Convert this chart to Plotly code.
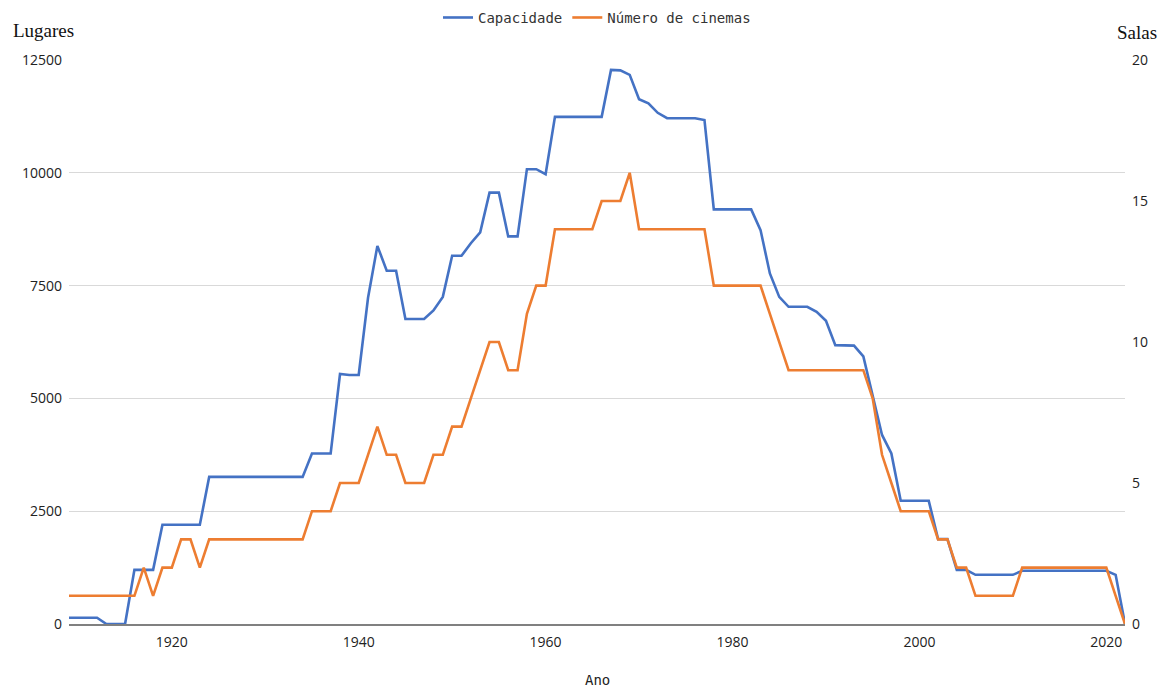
import plotly.graph_objects as go

years = list(range(1909, 2023))

capacidade = (
    [140, 140, 140, 140, 0, 0, 0, 1200, 1200, 1200, 2200, 2200, 2200, 2200, 2200]  # 1909-1923
    + [3260] * 11  # 1924-1934
    + [3780, 3780, 3780, 5540, 5520, 5520, 7230, 8380, 7830, 7830, 6760, 6760, 6760, 6950, 7250]  # 1935-1949
    + [8160, 8160, 8440, 8680, 9560, 9560, 8590, 8590, 10080, 10080, 9970]  # 1950-1960
    + [11240] * 6  # 1961-1966
    + [12280, 12270, 12170, 11630, 11540, 11330, 11210, 11210, 11210, 11210, 11170]  # 1967-1977
    + [9190] * 5  # 1978-1982
    + [8730, 7770, 7250, 7030, 7030, 7030, 6920, 6720, 6180, 6180, 6170, 5930, 5040, 4190, 3780]  # 1983-1997
    + [2730] * 4  # 1998-2001
    + [1880, 1880, 1200, 1200]  # 2002-2005
    + [1090] * 5  # 2006-2010
    + [1180] * 10  # 2011-2020
    + [1090, 0]  # 2021-2022
)

cinemas = (
    [1] * 8  # 1909-1916
    + [2, 1, 2, 2, 3, 3, 2]  # 1917-1923
    + [3] * 11  # 1924-1934
    + [4, 4, 4, 5, 5, 5, 6, 7, 6, 6, 5, 5, 5, 6, 6]  # 1935-1949
    + [7, 7, 8, 9, 10, 10, 9, 9, 11, 12, 12]  # 1950-1960
    + [14] * 5  # 1961-1965
    + [15, 15, 15, 16]  # 1966-1969
    + [14] * 8  # 1970-1977
    + [12] * 6  # 1978-1983
    + [11, 10]  # 1984-1985
    + [9] * 9  # 1986-1994
    + [8, 6, 5]  # 1995-1997
    + [4] * 4  # 1998-2001
    + [3, 3, 2, 2]  # 2002-2005
    + [1] * 5  # 2006-2010
    + [2] * 10  # 2011-2020
    + [1, 0]  # 2021-2022
)

series_names = ["Capacidade", "Número de cinemas"]
x_ticks = [1920, 1940, 1960, 1980, 2000, 2020]

BLUE = "#4472C4"
ORANGE = "#ED7D31"
TICKFONT = dict(family="Open Sans", size=14, color="#222222")

fig = go.Figure()
fig.add_trace(go.Scatter(x=years, y=capacidade, name=series_names[0], mode="lines",
                         line=dict(color=BLUE, width=2.6), yaxis="y"))
fig.add_trace(go.Scatter(x=years, y=cinemas, name=series_names[1], mode="lines",
                         line=dict(color=ORANGE, width=2.6), yaxis="y2"))

fig.update_layout(
    width=1166, height=688,
    margin=dict(l=69, r=41, t=60, b=64),
    paper_bgcolor="white", plot_bgcolor="white",
    showlegend=True,
    legend=dict(orientation="h", x=0.5, xanchor="center", y=0.974, yref="container",
                yanchor="middle", font=dict(family="DejaVu Sans Mono", size=14, color="#333333"),
                itemwidth=30, bgcolor="rgba(0,0,0,0)"),
    xaxis=dict(range=[1909, 2022], tickmode="array", tickvals=x_ticks,
               showgrid=False, zeroline=False, showline=True, linecolor="#808080", linewidth=2,
               ticks="", tickfont=TICKFONT, ticklabelstandoff=4),
    yaxis=dict(range=[0, 12500], dtick=2500, tick0=0, showgrid=True, gridcolor="#d9d9d9",
               gridwidth=1, zeroline=False, showline=False, ticks="", tickfont=TICKFONT,
               ticklabelstandoff=6, tickformat="d"),
    yaxis2=dict(range=[0, 20], dtick=5, tick0=0, overlaying="y", side="right", showgrid=False,
                zeroline=False, showline=False, ticks="", tickfont=TICKFONT, ticklabelstandoff=6),
    annotations=[
        dict(text="Lugares", x=-0.055, xref="paper", xanchor="left", y=1.053, yref="paper",
             yanchor="middle", showarrow=False, font=dict(family="Liberation Serif", size=19, color="#111111")),
        dict(text="Salas", x=0.991, xref="paper", xanchor="left", y=1.048, yref="paper",
             yanchor="middle", showarrow=False, font=dict(family="Liberation Serif", size=19, color="#111111")),
        dict(text="Ano", x=0.5, xref="paper", xanchor="center", y=-0.099, yref="paper",
             yanchor="middle", showarrow=False, font=dict(family="DejaVu Sans Mono", size=14, color="#222222")),
    ],
)

fig.write_html("out.html", config={"displayModeBar": False},
               post_script="document.body.style.margin='0px';document.body.style.overflow='hidden';")
